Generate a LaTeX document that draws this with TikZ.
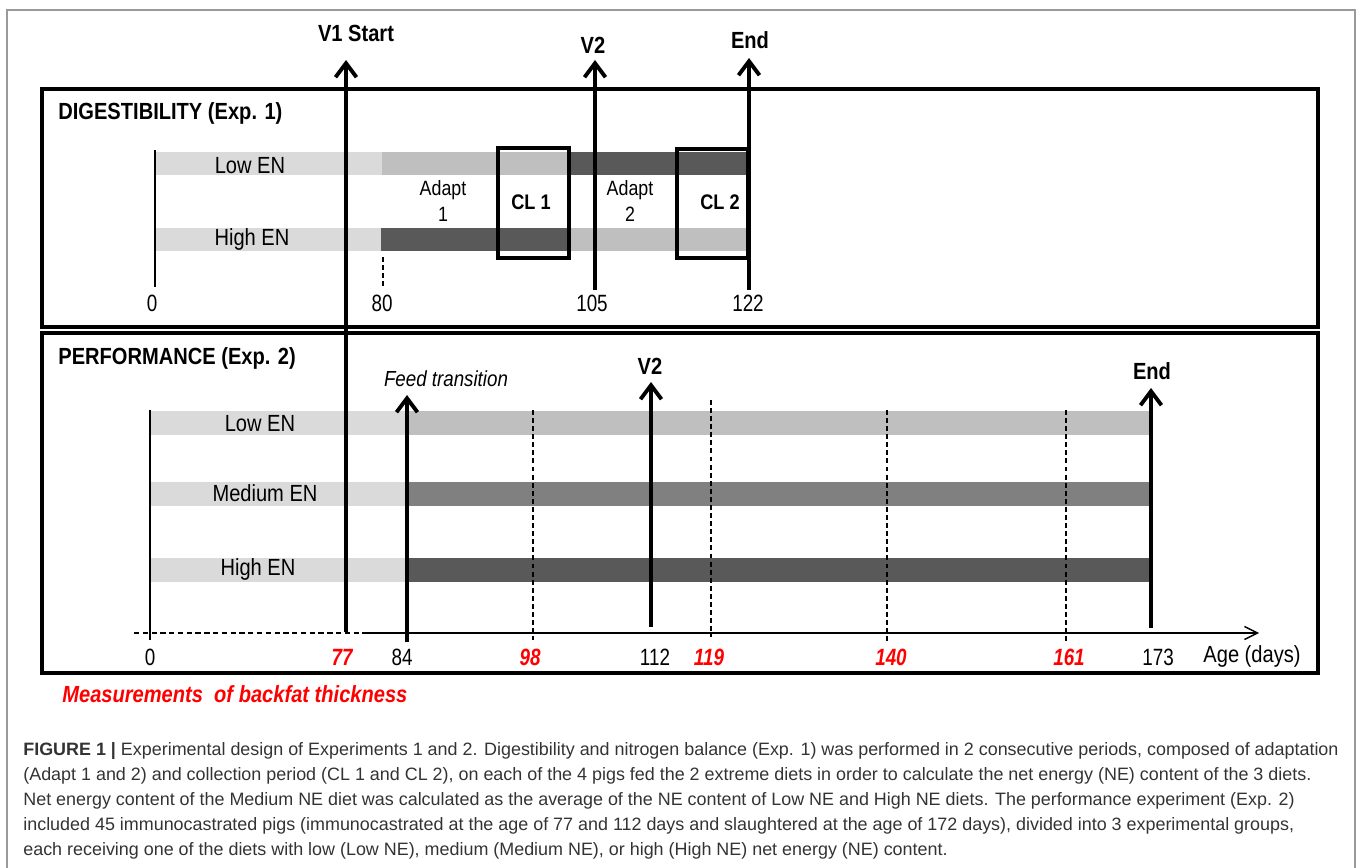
\documentclass[tikz,border=0pt]{standalone}
\usepackage{fontspec}
\setmainfont{Liberation Sans}
\newfontfamily\dfont{Liberation Sans}[FakeStretch=0.86]
\newfontfamily\numfam{Liberation Sans}[FakeStretch=0.8]
\usetikzlibrary{arrows.meta}
\definecolor{barlight}{HTML}{DADADA}
\definecolor{barmid}{HTML}{BFBFBF}
\definecolor{barmed}{HTML}{808080}
\definecolor{bardark}{HTML}{595959}
\definecolor{framegray}{HTML}{9A9A9A}
\definecolor{capgray}{HTML}{333333}
\newcommand\lfont{\dfont\fontsize{13.3}{15}\selectfont}
\newcommand\nfont{\numfam\fontsize{13.4}{15}\selectfont}
\newcommand\sfont{\dfont\fontsize{11.8}{15.3}\selectfont}
\newcommand\cfont{\fontsize{10.2}{14}\selectfont}
\begin{document}
\begin{tikzpicture}[x=0.02cm,y=-0.02cm,
  lab/.style={font=\lfont,inner sep=0pt},
  blab/.style={font=\lfont\bfseries,inner sep=0pt},
  num/.style={font=\nfont,inner sep=0pt},
  rnum/.style={font=\nfont\bfseries\itshape,text=red,inner sep=0pt},
  panel/.style={line width=2.2pt},
  clbox/.style={line width=2pt},
  bigarr/.style={line width=2.2pt,-{Straight Barb[length=2.8mm,width=4.2mm]}},
  thinline/.style={line width=0.75pt},
  dashline/.style={line width=0.65pt,dash pattern=on 2.8pt off 1.8pt},
  caption/.style={font=\cfont,text=capgray,inner sep=0pt,anchor=base west}]
  \useasboundingbox (0,0) rectangle (1358,868);
  \draw[framegray,line width=0.8pt] (7,868) -- (7,10) -- (1355,10) -- (1355,868);

  \begin{scope}
    \foreach \xa/\xb/\ya/\c in {155/382/152/barlight,382/567/152/barmid,567/749/152/bardark,
      155/381/228/barlight,381/568/228/bardark,568/749/228/barmid}
      {\fill[\c] (\xa,\ya) rectangle (\xb,{\ya+23});}
    \draw[thinline] (155,150) -- (155,287);
    \draw[dashline] (383,257) -- (383,287);
    \draw[clbox] (498,148) rectangle (569,258);
    \draw[clbox] (677,149) rectangle (748,258);
    \node[blab,anchor=west] (dtitle) at (58,113) {DIGESTIBILITY (Exp. 1)};
    \node[lab] (dlow) at (250,166) {Low EN};
    \node[lab] (dhigh) at (252,239) {High EN};
    \node[font=\sfont,inner sep=0pt,align=center] (ad1) at (443,201) {Adapt\\1};
    \node[font=\sfont,inner sep=0pt,align=center] (ad2) at (630,201) {Adapt\\2};
    \node[font=\dfont\bfseries\fontsize{12}{14}\selectfont,inner sep=0pt] (cl1) at (531,202) {CL 1};
    \node[font=\dfont\bfseries\fontsize{12}{14}\selectfont,inner sep=0pt] (cl2) at (720,202) {CL 2};
    \foreach \x/\t in {152/0,382/80,592/105,748/122}
      {\node[num] (d\t) at (\x,303) {\t};}
    \draw[panel] (42,89) rectangle (1318,327);
  \end{scope}

  \begin{scope}
    \foreach \y/\c in {411/barmid,482/barmed,558/bardark}
      {\fill[barlight] (150,\y) rectangle (408,{\y+24});
       \fill[\c] (408,\y) rectangle (1151,{\y+24});}
    \draw[thinline] (150,410) -- (150,640);
    \foreach \x/\ya/\yb in {533/410/640,711/400/637,887/410/642,1066/410/643}
      {\draw[dashline] (\x,\ya) -- (\x,\yb);}
    \node[blab,anchor=west] (ptitle) at (58,358) {PERFORMANCE (Exp. 2)};
    \node[font=\dfont\itshape\fontsize{12.4}{14}\selectfont,inner sep=0pt] (feed) at (446,379) {Feed transition};
    \node[lab] (plow) at (260,424) {Low EN};
    \node[lab] (pmed) at (265,493) {Medium EN};
    \node[lab] (phigh) at (258,569) {High EN};
    \coordinate (ax0) at (134,633);
    \coordinate (ax1) at (362,633);
    \coordinate (ax2) at (1259,633);
    \draw[line width=0.8pt,dash pattern=on 3pt off 2pt] (ax0) -- (ax1);
    \draw[line width=0.8pt,-{Straight Barb[length=2.6mm,width=2.6mm]}] (ax1) -- (ax2);
    \foreach \x/\t in {150/0,402/84,655/112,1158/173}
      {\node[num] (p\t) at (\x,657) {\t};}
    \foreach \x/\t in {342/77,530/98,709/119,891/140,1069/161}
      {\node[rnum] (p\t) at (\x,657) {\t};}
    \node[lab] (age) at (1252,656) {Age (days)};
    \draw[panel] (42,333) rectangle (1318,673);
    \node[blab,font=\lfont\bfseries\itshape,text=red,anchor=west] (meas) at (62,694)
      {Measurements\ \ of backfat thickness};
  \end{scope}

  \node[blab] (v1) at (356,33) {V1 Start};
  \node[blab] (v2a) at (593,45) {V2};
  \node[blab] (enda) at (750,40) {End};
  \node[blab] (v2b) at (650,366) {V2};
  \node[blab] (endb) at (1152,371) {End};
  \foreach \n/\x/\yb/\yt in {v1/346/632/60,va/595/290/60,ea/749/290/58,
      ft/407/642/395,vb/651/627/382,eb/1151/628/388}
    {\coordinate (\n b) at (\x,\yb);
     \coordinate (\n t) at (\x,\yt);
     \draw[bigarr] (\n b) -- (\n t);}

  \node[caption] (cap1) at (23,755) {\textbf{FIGURE 1 |} Experimental design of Experiments 1 and 2. Digestibility and nitrogen balance (Exp. 1) was performed in 2 consecutive periods, composed of adaptation};
  \node[caption] (cap2) at (23,780) {(Adapt 1 and 2) and collection period (CL 1 and CL 2), on each of the 4 pigs fed the 2 extreme diets in order to calculate the net energy (NE) content of the 3 diets.};
  \node[caption] (cap3) at (23,805) {Net energy content of the Medium NE diet was calculated as the average of the NE content of Low NE and High NE diets. The performance experiment (Exp. 2)};
  \node[caption] (cap4) at (23,830) {included 45 immunocastrated pigs (immunocastrated at the age of 77 and 112 days and slaughtered at the age of 172 days), divided into 3 experimental groups,};
  \node[caption] (cap5) at (23,855) {each receiving one of the diets with low (Low NE), medium (Medium NE), or high (High NE) net energy (NE) content.};
\end{tikzpicture}
\end{document}
